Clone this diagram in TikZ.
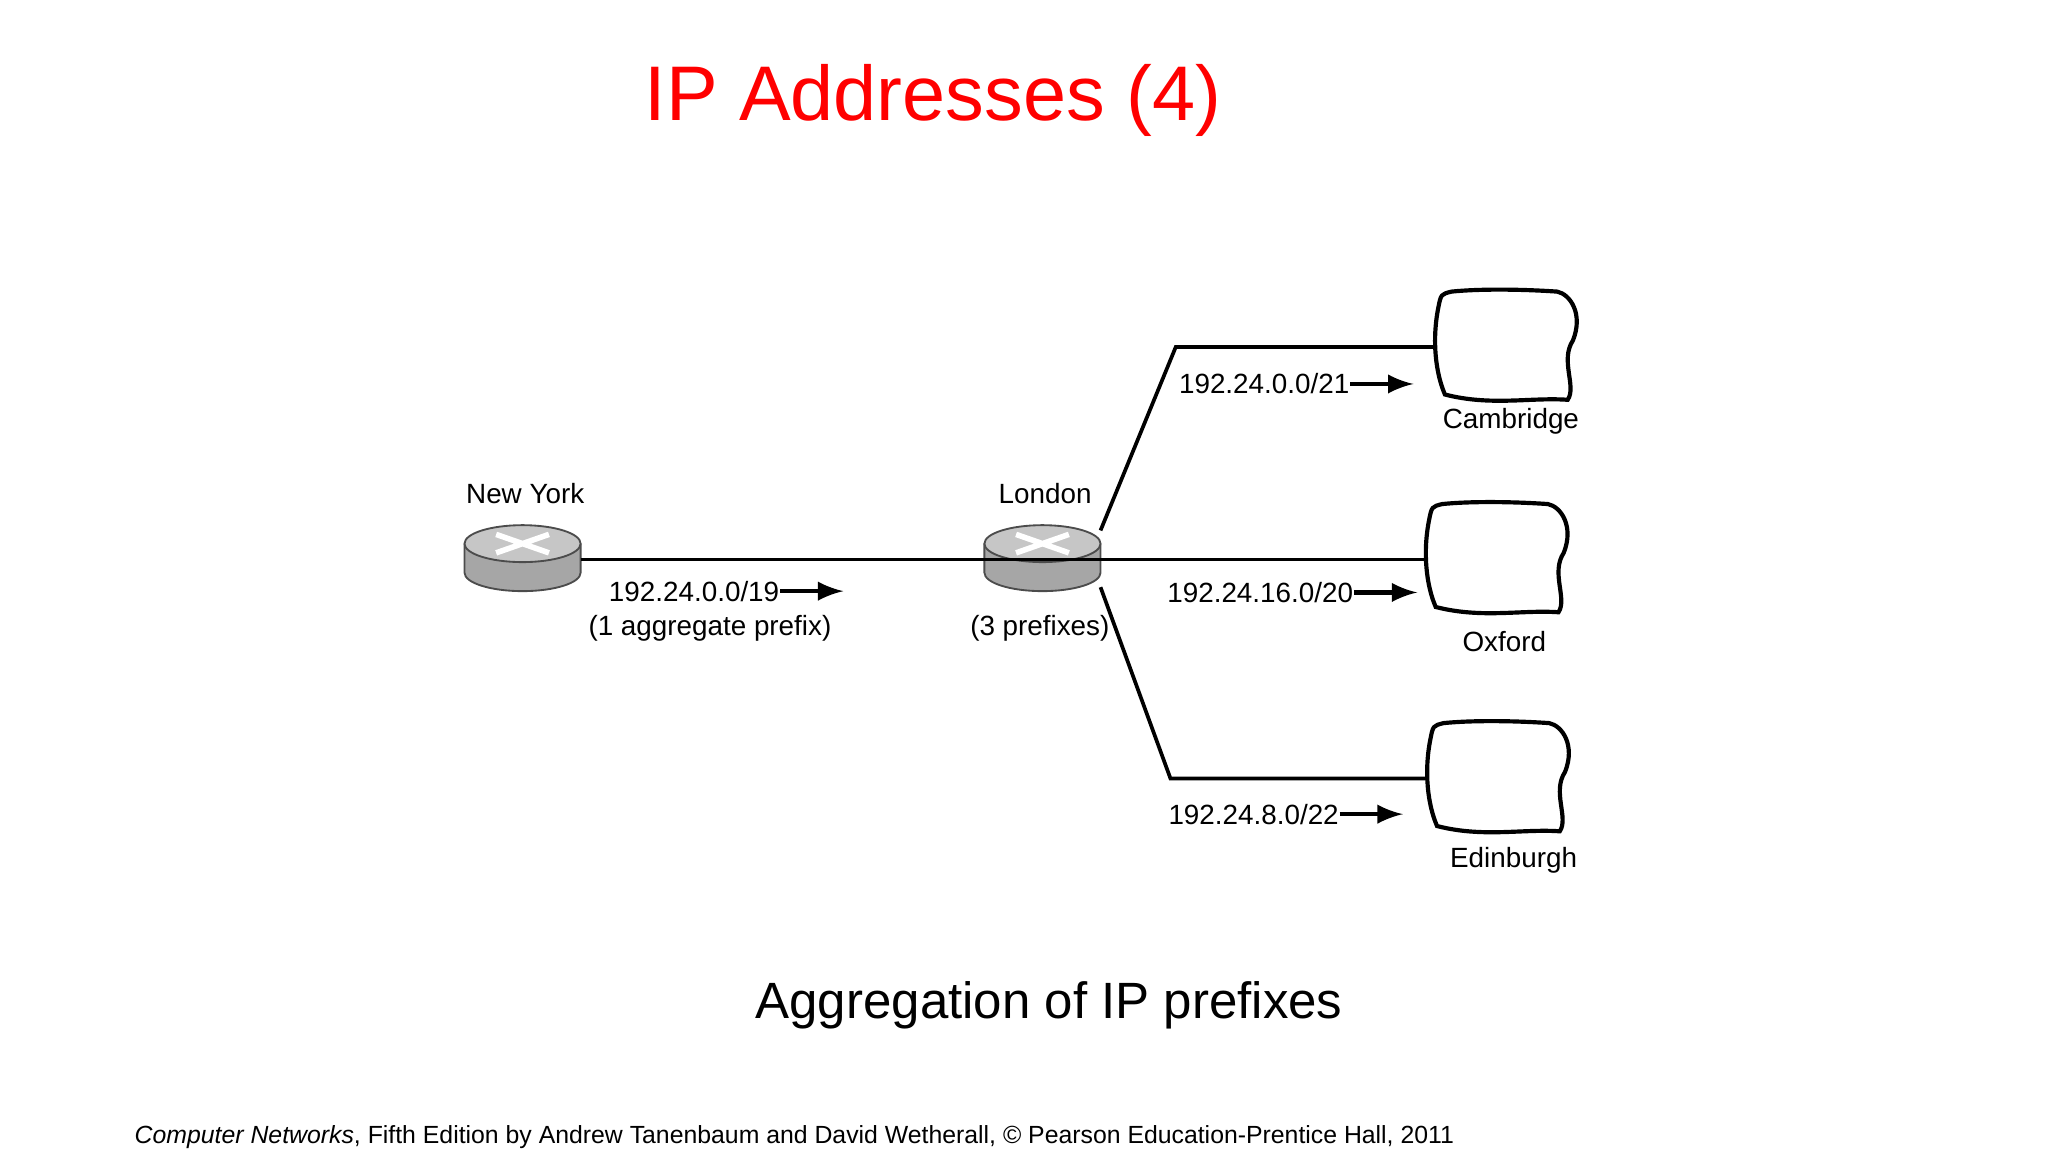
\documentclass[tikz,border=0pt]{standalone}
\usepackage{fontspec}
\setmainfont{Liberation Sans}
\usetikzlibrary{positioning}

\newcommand{\routerat}[2]{% name, position
  \begin{scope}[shift={#2}]
    \fill[gray!70] (-0.44,0) -- (-0.44,-0.22) arc (180:360:0.44 and 0.14) -- (0.44,0) -- cycle;
    \draw[gray!60!black, thin] (-0.44,0) -- (-0.44,-0.22) arc (180:360:0.44 and 0.14) -- (0.44,0);
    \fill[gray!45] (0,0) ellipse (0.44 and 0.14);
    \draw[gray!60!black, thin] (0,0) ellipse (0.44 and 0.14);
    \draw[white, line width=1.2pt] (-0.2,-0.07) -- (0.2,0.07) (-0.2,0.07) -- (0.2,-0.07);
    \coordinate (#1) at (0,-0.1);
  \end{scope}}

\newcommand{\cloudat}[2]{% name, position
  \begin{scope}[shift={#2}]
    \draw[line width=0.9pt] (-0.5,0.3) .. controls (-0.55,0.05) and (-0.52,-0.2) .. (-0.45,-0.36)
      .. controls (-0.1,-0.45) and (0.2,-0.38) .. (0.48,-0.4)
      .. controls (0.55,-0.3) and (0.42,-0.1) .. (0.52,0.05)
      .. controls (0.6,0.25) and (0.5,0.4) .. (0.4,0.42)
      .. controls (0.1,0.44) and (-0.2,0.44) .. (-0.4,0.42)
      .. controls (-0.48,0.4) .. cycle;
    \coordinate (#1) at (-0.52,0);
  \end{scope}}

\begin{document}
\begin{tikzpicture}
   \tikzstyle{lbl}=[font=\fontsize{6}{7}\selectfont, inner sep=0pt]
   \tikzstyle{link}=[line width=0.8pt]
   \tikzstyle{arr}=[line width=0.9pt, -latex]
   \useasboundingbox (0,0) rectangle (15.52,8.73);

\node[text=red, font=\fontsize{16.7}{19}\selectfont] (title) at (7.07,7.97) {IP Addresses (4)};

\routerat{ny}{(3.96,4.61)}
\routerat{lon}{(7.90,4.61)}
\cloudat{cam}{(11.40,6.10)}
\cloudat{oxf}{(11.33,4.49)}
\cloudat{edi}{(11.34,2.83)}

\node[lbl] (nyl) at (3.98,4.99) {New York};
\node[lbl] (lonl) at (7.92,4.99) {London};
\node[lbl] (pre3) at (7.88,3.97) {(3 prefixes)};
\node[lbl] (caml) at (11.45,5.54) {Cambridge};
\node[lbl] (oxfl) at (11.40,3.87) {Oxford};
\node[lbl] (edil) at (11.47,2.21) {Edinburgh};

\coordinate (nyr) at (4.40,4.49);
\coordinate (lonr) at (8.34,4.49);
\coordinate (lonu) at (8.34,4.71);
\coordinate (lond) at (8.34,4.28);
\coordinate (kup) at (8.91,6.10);
\coordinate (kdn) at (8.87,2.83);

\draw[link] (nyr) -- (lonr);
\draw[link] (lonu) -- (kup) -- (cam);
\draw[link] (lonr) -- (oxf);
\draw[link] (lond) -- (kdn) -- (edi);

\node[lbl] (p19) at (5.26,4.25) {192.24.0.0/19};
\node[lbl] (agg) at (5.38,3.97) {(1 aggregate prefix)};
\node[lbl] (p21) at (9.58,5.82) {192.24.0.0/21};
\node[lbl] (p20) at (9.55,4.24) {192.24.16.0/20};
\node[lbl] (p22) at (9.50,2.56) {192.24.8.0/22};
\draw[arr] (p19.east) -- ++(0.48,0);
\draw[arr] (p21.east) -- ++(0.48,0);
\draw[arr] (p20.east) -- ++(0.48,0);
\draw[arr] (p22.east) -- ++(0.48,0);

\node[font=\fontsize{11}{13}\selectfont] (cap) at (7.95,1.11) {Aggregation of IP prefixes};
\node[font=\fontsize{5.35}{6.5}\selectfont] (foot) at (6.02,0.11) {\textit{Computer Networks}, Fifth Edition by Andrew Tanenbaum and David Wetherall, © Pearson Education-Prentice Hall, 2011};
\end{tikzpicture}
\end{document}
